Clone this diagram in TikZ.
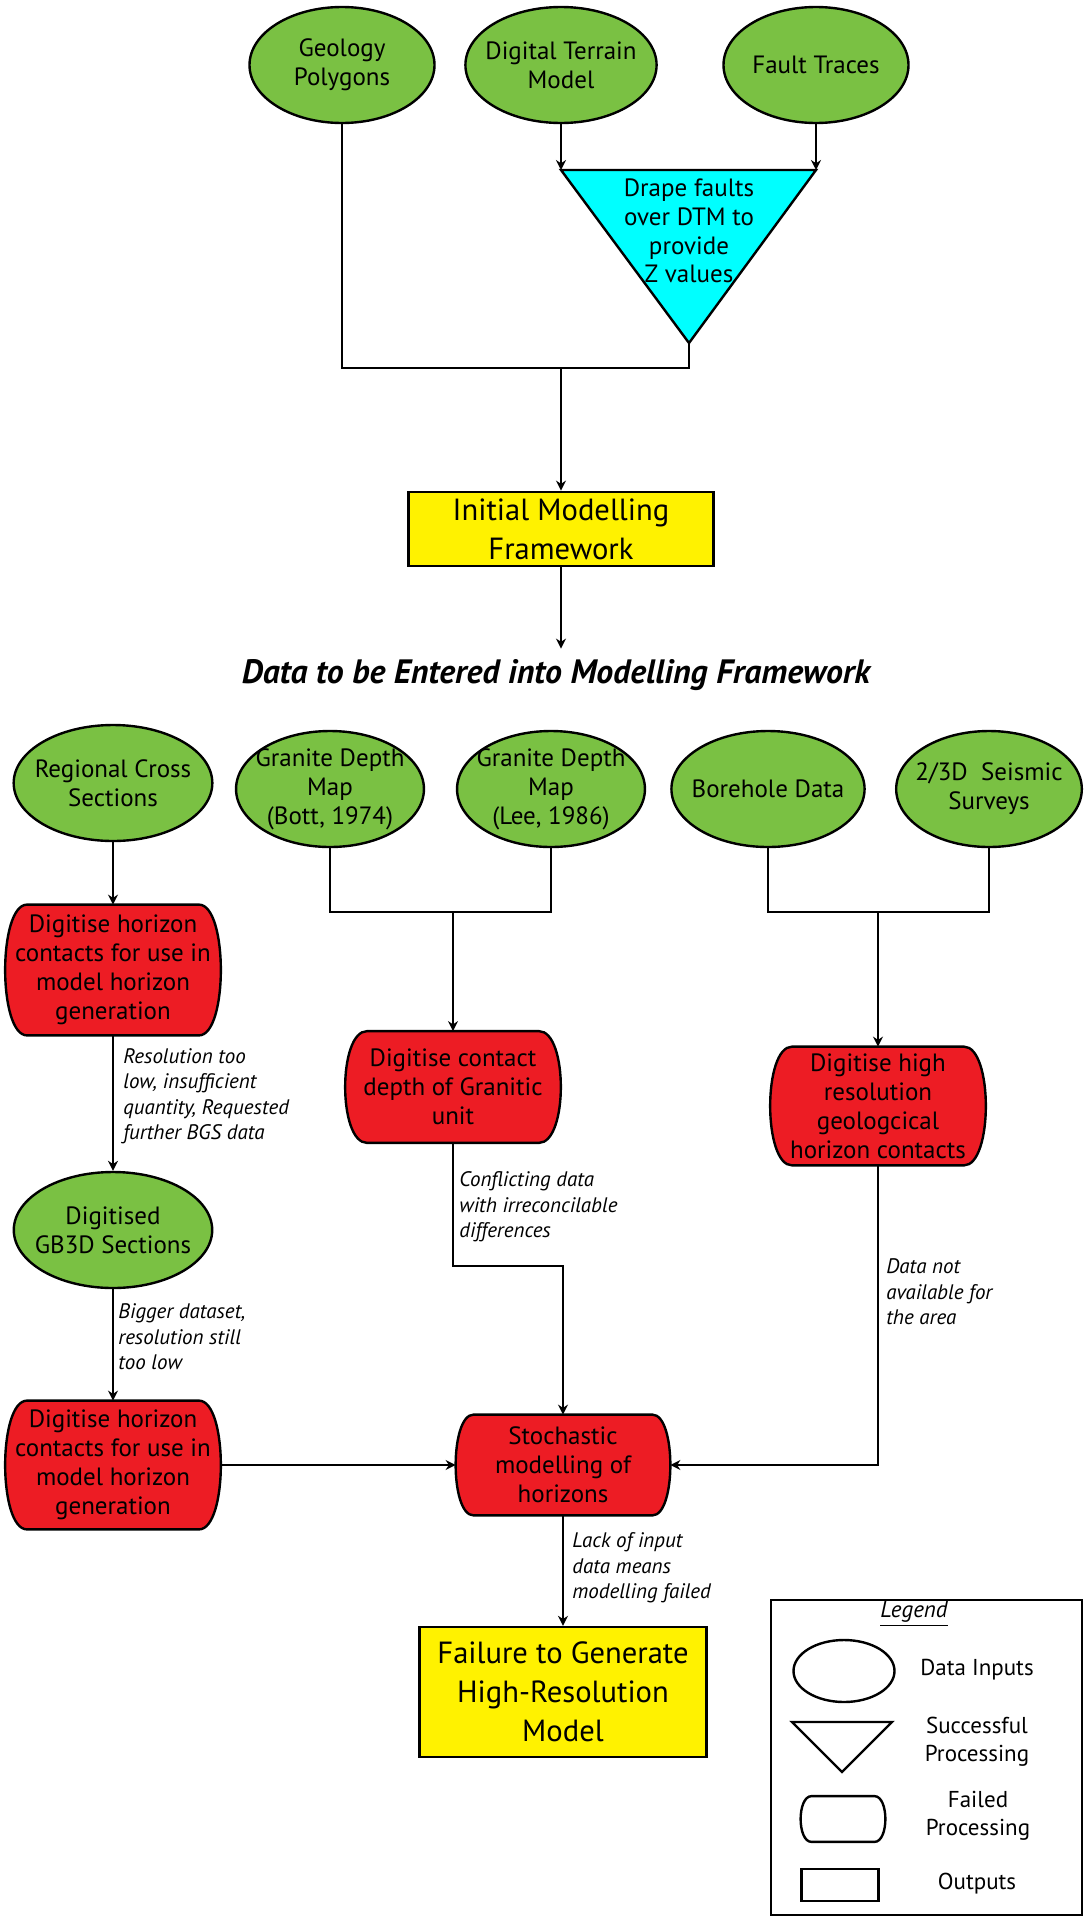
\documentclass[tikz,border=0pt]{standalone}
\usepackage{fontspec}
\setmainfont{PT Sans}
\usetikzlibrary{shapes.geometric,arrows.meta,backgrounds}
\definecolor{leafgreen}{HTML}{7AC143}
\definecolor{failred}{HTML}{ED1C24}
\definecolor{drapecyan}{HTML}{00FFFF}
\definecolor{outyellow}{HTML}{FFF200}
\tikzset{
  datain/.style={ellipse,draw=black,fill=#1,line width=1.2pt,
                 minimum width=92.5pt,minimum height=58pt,inner sep=-4pt,
                 font=\fontsize{12.5}{14.5}\selectfont,align=center},
  datain/.default=leafgreen,
  failbox/.style={rectangle,minimum width=107.5pt,inner sep=0pt,
                  font=\fontsize{12.5}{14.5}\selectfont,align=center},
  outbox/.style={rectangle,draw=black,fill=#1,line width=1.2pt,
                 font=\fontsize{15.3}{19.5}\selectfont,align=center},
  outbox/.default=outyellow,
  succ/.style={draw=black,fill=#1,line width=1.2pt,line join=miter},
  succ/.default=drapecyan,
  note/.style={font=\fontsize{10.5}{12.75}\selectfont\itshape,align=left,
               anchor=west,inner sep=0pt},
  keytxt/.style={font=\fontsize{11.5}{14}\selectfont,align=center},
  arr/.style={-{Stealth[length=5pt,width=5pt]},line width=1pt},
  ln/.style={line width=1pt},
}
% barrel outline round a failbox node: [bulge]{node}{fill}
\newcommand{\failshape}[3][11pt]{%
  \draw[line width=1.2pt,fill=#3]
    ([xshift=#1]#2.north west) -- ([xshift=-#1]#2.north east)
    .. controls +(1.33*#1,0) and +(1.33*#1,0) .. ([xshift=-#1]#2.south east)
    -- ([xshift=#1]#2.south west)
    .. controls +(-1.33*#1,0) and +(-1.33*#1,0) .. cycle;}

\begin{document}
\begin{tikzpicture}[x=0.5pt,y=-0.5pt]
  \useasboundingbox (0,0) rectangle (1086,1917);

  % inputs to the framework
  \node[datain] (geo)   at (342,65) {Geology\\Polygons};
  \node[datain] (dtm)   at (561,65) {Digital Terrain\\Model};
  \node[datain] (fault) at (816,65) {Fault Traces};

  % drape step (successful)
  \coordinate (dtl)   at (561,170);
  \coordinate (dtr)   at (816,170);
  \coordinate (dapex) at (689,343);
  \draw[succ] (dtl) -- (dtr) -- (dapex) -- cycle;
  \node[align=center,font=\fontsize{12.5}{14.4}\selectfont] (drape) at (689,231)
       {Drape faults\\over DTM to\\provide\\Z values};

  \draw[arr] (dtm.south) -- (dtl);
  \draw[arr] (fault.south) -- (dtr);
  \coordinate (j1) at (689,368);
  \draw[ln] (geo.south) |- (j1) -- (dapex);

  \node[outbox,minimum width=152.5pt,minimum height=36pt] (init) at (561,529)
       {Initial Modelling\\Framework};
  \draw[arr] (dtm |- j1) -- (init.north);

  \node[font=\fontsize{16.9}{20}\selectfont\bfseries\itshape,inner ysep=5pt,anchor=base]
       (title) at (556,683) {Data to be Entered into Modelling Framework};
  \draw[arr] (init.south) -- (init.south |- title.north);

  % second group of inputs
  \node[datain] (reg)  at (113,783) {Regional Cross\\Sections};
  \node[datain] (bott) at (330,789) {Granite Depth\\Map\\(Bott, 1974)};
  \node[datain] (lee)  at (551,789) {Granite Depth\\Map\\(Lee, 1986)};
  \node[datain] (bore) at (768,789) {Borehole Data};
  \node[datain] (seis) at (989,789) {2/3D\ \ Seismic\\Surveys};

  % processing (failed)
  \node[failbox,minimum height=65pt] (dig1) at (113,970)
       {Digitise horizon\\contacts for use in\\model horizon\\generation};
  \node[failbox,minimum height=55.5pt] (digc) at (453,1087)
       {Digitise contact\\depth of Granitic\\unit};
  \node[failbox,minimum height=59pt] (digh) at (878,1106)
       {Digitise high\\resolution\\geologcical\\horizon contacts};
  \node[datain] (gb3d) at (113,1230) {Digitised\\GB3D Sections};
  \node[failbox,minimum height=64pt] (dig2) at (113,1465)
       {Digitise horizon\\contacts for use in\\model horizon\\generation};
  \node[failbox,minimum height=50pt,minimum width=107pt] (stoch) at (563,1465)
       {Stochastic\\modelling of\\horizons};
  \node[outbox,minimum width=143.5pt,minimum height=65pt] (fail) at (563,1692)
       {Failure to Generate\\High-Resolution\\Model};

  \draw[arr] (reg) -- (dig1);
  \coordinate (j2) at (453,912);
  \draw[ln] (bott.south) |- (j2) -| (lee.south);
  \draw[arr] (j2) -- (digc);
  \coordinate (j3) at (878,912);
  \draw[ln] (bore.south) |- (j3) -| (seis.south);
  \draw[arr] (j3) -- (digh);
  \draw[arr] (dig1) -- (gb3d);
  \draw[arr] (gb3d) -- (dig2);
  \draw[arr] (dig2) -- (stoch);
  \coordinate (j4) at (563,1266);
  \draw[arr] (digc.south) |- (j4) -- (stoch.north);
  \draw[arr] (digh.south) |- (stoch.east);
  \draw[arr] (stoch) -- (fail);

  % reasons
  \node[note] (why1) at (123,1096)
       {Resolution too\\low, insufficient\\quantity, Requested\\further BGS data};
  \node[note] (why2) at (118,1337) {Bigger dataset,\\resolution still\\too low};
  \node[note] (why3) at (459,1207)
       {Conflicting data\\with irreconcilable\\differences};
  \node[note] (why4) at (886,1292) {Data not\\available for\\the area};
  \node[note] (why5) at (572,1568) {Lack of input\\data means\\modelling failed};

  % legend
  \node[draw=black,line width=1.2pt,minimum width=155.5pt,minimum height=157.5pt]
       (key) at (926.5,1757.5) {};
  \node[font=\fontsize{11.5}{14}\selectfont\itshape] (keyhead) at (914,1614)
       {\underline{Legend}};
  \node[datain=white,minimum width=50.5pt,minimum height=31pt] (keydata) at (844,1671) {};
  \node[keytxt] (keydatatxt) at (977,1670) {Data Inputs};
  \coordinate (ktl)   at (792,1722);
  \coordinate (ktr)   at (892,1722);
  \coordinate (kapex) at (842,1772);
  \draw[succ=white] (ktl) -- (ktr) -- (kapex) -- cycle;
  \node[keytxt] (keysucctxt) at (977,1742) {Successful\\Processing};
  \node[failbox,minimum width=42pt,minimum height=22.5pt] (keyfail) at (843,1819) {};
  \node[keytxt] (keyfailtxt) at (978,1816) {Failed\\Processing};
  \node[outbox=white,minimum width=38.5pt,minimum height=16pt] (keyout) at (840,1885) {};
  \node[keytxt] (keyouttxt) at (977,1884) {Outputs};

  % barrel outlines behind the failed steps
  \begin{scope}[on background layer]
    \foreach \n in {dig1,digc,digh,dig2}
      \failshape{\n}{failred};
    \failshape[9pt]{stoch}{failred}
    \failshape[5.5pt]{keyfail}{white}
  \end{scope}
\end{tikzpicture}
\end{document}
